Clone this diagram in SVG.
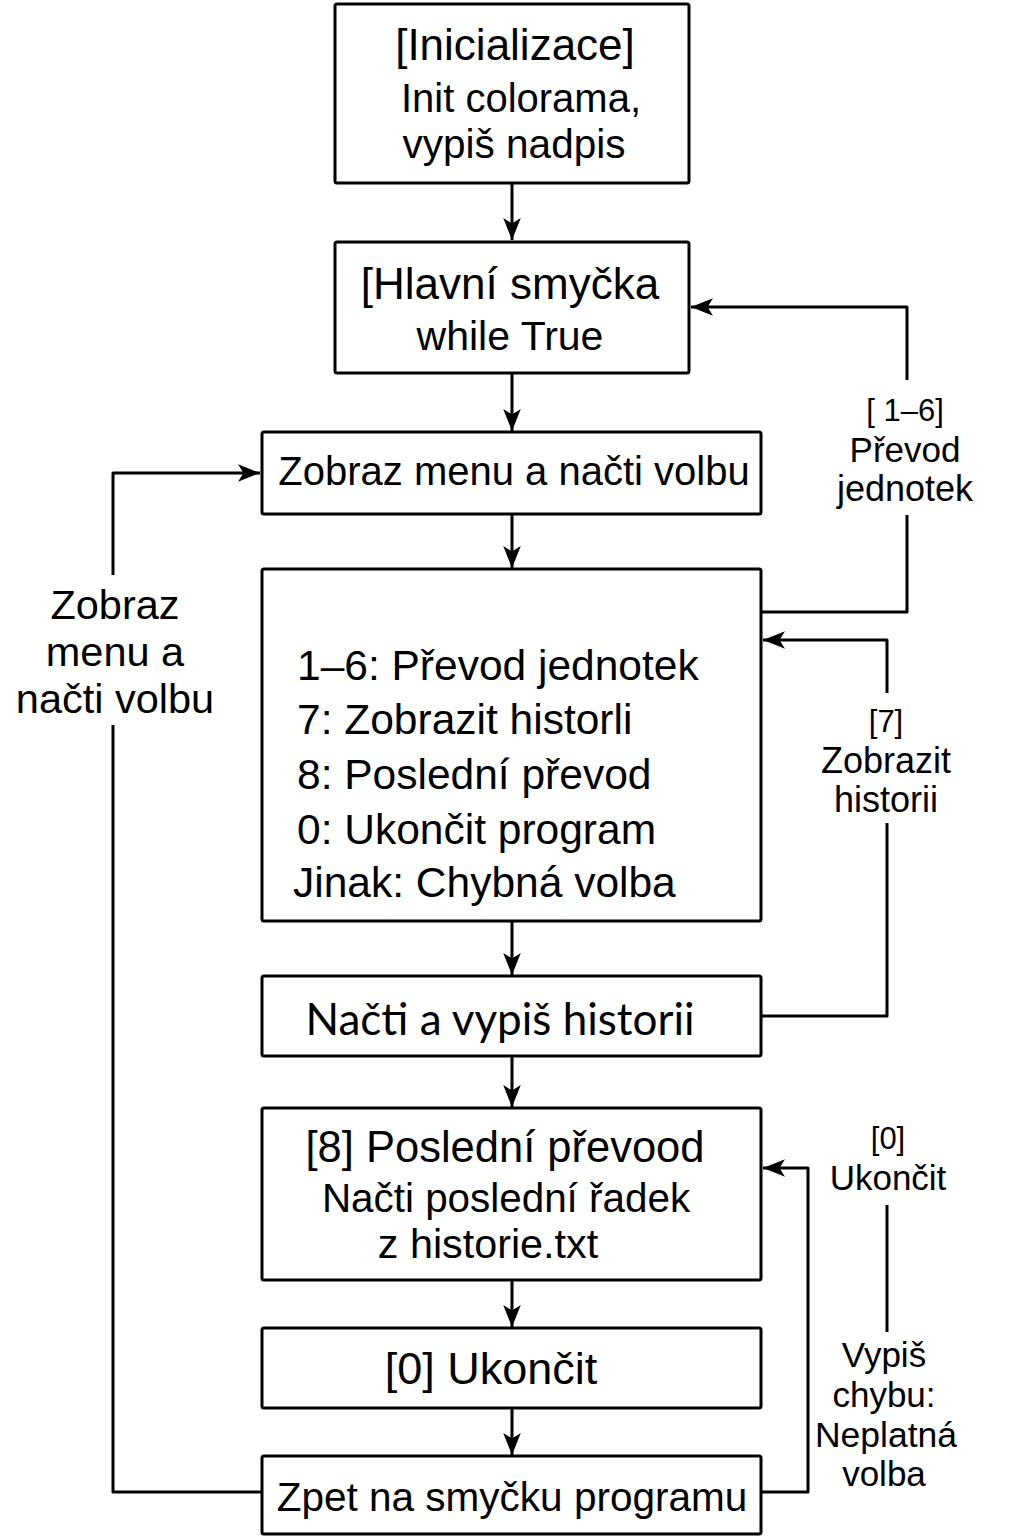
<svg xmlns="http://www.w3.org/2000/svg" width="1024" height="1536" viewBox="0 0 1024 1536">
<defs>
<style>
.box{fill:#fff;stroke:#000;stroke-width:3}
.t{font-family:"Liberation Sans",Arial,sans-serif;fill:#000;text-anchor:middle}
.l{font-family:"Liberation Sans",Arial,sans-serif;fill:#000}
.c{fill:none;stroke:#000;stroke-width:3;stroke-linejoin:round}
</style>
<marker id="ah2" viewBox="0 0 20 16" refX="20" refY="8" markerWidth="22" markerHeight="18" markerUnits="userSpaceOnUse" orient="auto">
<path d="M0,0 L20,8 L0,16 L5,8 z" fill="#000"/>
</marker>
</defs>
<rect width="1024" height="1536" fill="#fff"/>
<g id="connectors">
<path class="c" d="M512,183 V240" marker-end="url(#ah2)"/>
<path class="c" d="M512,373 V431" marker-end="url(#ah2)"/>
<path class="c" d="M512,514 V568" marker-end="url(#ah2)"/>
<path class="c" d="M512,921 V975" marker-end="url(#ah2)"/>
<path class="c" d="M512,1056 V1107" marker-end="url(#ah2)"/>
<path class="c" d="M512,1280 V1327" marker-end="url(#ah2)"/>
<path class="c" d="M512,1408 V1455" marker-end="url(#ah2)"/>
<path class="c" d="M761,612 H907 V515"/>
<path class="c" d="M907,380 V307 H691" marker-end="url(#ah2)"/>
<path class="c" d="M761,1016 H887 V823"/>
<path class="c" d="M887,693 V640 H763" marker-end="url(#ah2)"/>
<path class="c" d="M761,1492 H808 V1168 H763" marker-end="url(#ah2)"/>
<path class="c" d="M887,1205 V1332"/>
<path class="c" d="M262,1492 H113 V725"/>
<path class="c" d="M113,575 V473 H260" marker-end="url(#ah2)"/>
</g>
<g id="lbl-1-6">
<text class="t" x="905" y="421" font-size="31">[ 1–6]</text>
<text class="t" x="905" y="462" font-size="35">Převod</text>
<text class="t" x="905" y="501" font-size="36">jednotek</text>
</g>
<g id="lbl-7">
<text class="t" x="886" y="732" font-size="31">[7]</text>
<text class="t" x="886" y="773" font-size="36">Zobrazit</text>
<text class="t" x="886" y="812" font-size="36">historii</text>
</g>
<g id="lbl-0">
<text class="t" x="888" y="1149" font-size="31">[0]</text>
<text class="t" x="888" y="1190" font-size="35">Ukončit</text>
<text class="t" x="884" y="1367" font-size="35">Vypiš</text>
<text class="t" x="884" y="1407" font-size="35">chybu:</text>
<text class="t" x="886" y="1447" font-size="35.5">Neplatná</text>
<text class="t" x="884" y="1486" font-size="35">volba</text>
</g>
<g id="lbl-left">
<text class="t" x="115" y="619" font-size="41.5">Zobraz</text>
<text class="t" x="115" y="666" font-size="41.5">menu a</text>
<text class="t" x="115" y="713" font-size="41.5">načti volbu</text>
</g>
<g id="n1">
<rect class="box" x="335" y="4" width="354" height="179" rx="2"/>
<text class="t" x="515" y="60" font-size="44">[Inicializace]</text>
<text class="t" x="521" y="112" font-size="40">Init colorama,</text>
<text class="t" x="514" y="158" font-size="40.5">vypiš nadpis</text>
</g>
<g id="n2">
<rect class="box" x="335" y="242" width="354" height="131" rx="2"/>
<text class="t" x="510" y="299" font-size="44">[Hlavní smyčka</text>
<text class="t" x="510" y="350" font-size="41">while True</text>
</g>
<g id="n3">
<rect class="box" x="262" y="432" width="499" height="82" rx="2"/>
<text class="t" x="514" y="485" font-size="40">Zobraz menu a načti volbu</text>
</g>
<g id="n4">
<rect class="box" x="262" y="569" width="499" height="352" rx="2"/>
<text class="l" x="297" y="680" font-size="42.5">1–6: Převod jednotek</text>
<text class="l" x="297" y="734" font-size="42.5">7: Zobrazit historli</text>
<text class="l" x="297" y="789" font-size="42.5">8: Poslední převod</text>
<text class="l" x="297" y="844" font-size="42.5">0: Ukončit program</text>
<text class="l" x="293" y="897" font-size="42.5">Jinak: Chybná volba</text>
</g>
<g id="n5">
<rect class="box" x="262" y="976" width="499" height="80" rx="2"/>
<text class="t" x="500" y="1035" font-size="44" style="font-family:Lato,'Open Sans',sans-serif">Načti a vypiš historii</text>
</g>
<g id="n6">
<rect class="box" x="262" y="1108" width="499" height="172" rx="2"/>
<text class="t" x="505" y="1162" font-size="43.5">[8] Poslední převood</text>
<text class="t" x="506" y="1212" font-size="40.4">Načti poslední řadek</text>
<text class="t" x="488" y="1258" font-size="41.3">z historie.txt</text>
</g>
<g id="n7">
<rect class="box" x="262" y="1328" width="499" height="80" rx="2"/>
<text class="t" x="491" y="1384" font-size="45">[0] Ukončit</text>
</g>
<g id="n8">
<rect class="box" x="262" y="1456" width="499" height="78" rx="2"/>
<text class="t" x="512" y="1511" font-size="40.5">Zpet na smyčku programu</text>
</g>
</svg>
